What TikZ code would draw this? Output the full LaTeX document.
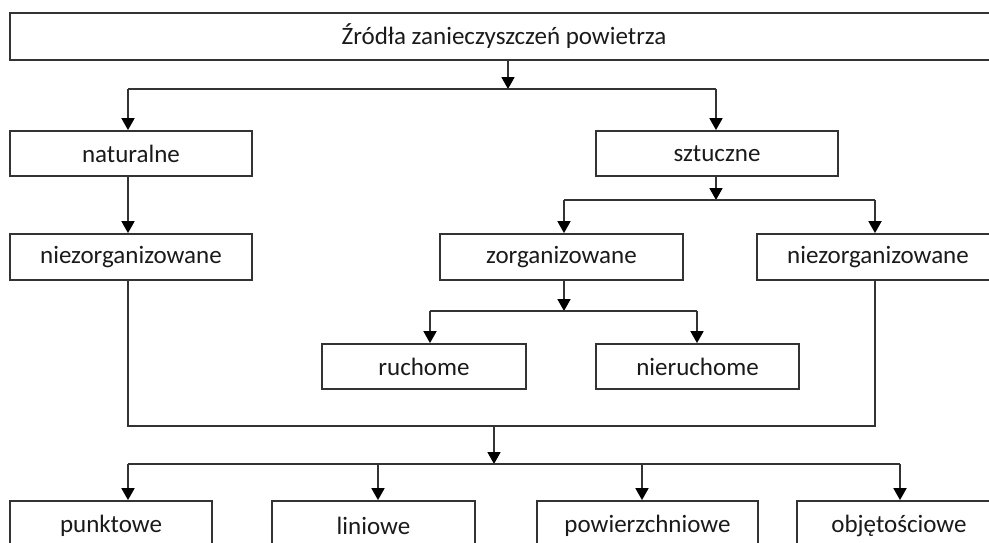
\documentclass[tikz,border=0pt]{standalone}
\usepackage{fontspec}
\setmainfont{Carlito}
\usetikzlibrary{arrows.meta}
\definecolor{ln}{HTML}{333333}
\definecolor{tx}{HTML}{1A1A1A}
\begin{document}
\begin{tikzpicture}[x=1pt,y=-1pt,
  box/.style={draw=ln,line width=1.8pt,rectangle,inner sep=0pt,text=tx,
    font=\fontsize{25}{30}\selectfont},
  wire/.style={draw=ln,line width=1.8pt},
  arr/.style={wire,-{Triangle[width=13pt,length=12pt,color=black]}}]
\useasboundingbox (0,0) rectangle (989,542);
\begin{scope}
\clip (0,0) rectangle (989,542);
\node[box,minimum width=988pt,minimum height=47pt] (top) at (504,36.5) {Źródła zanieczyszczeń powietrza};
\node[box,minimum width=242pt,minimum height=45pt] (nat) at (131,153.5) {naturalne};
\node[box,minimum width=242pt,minimum height=45pt] (szt) at (717,153.5) {sztuczne};
\node[box,minimum width=242pt,minimum height=46pt] (niezL) at (131,257) {niezorganizowane};
\node[box,minimum width=243pt,minimum height=46pt] (zorg) at (561.5,257) {zorganizowane};
\node[box,minimum width=242pt,minimum height=46pt] (niezR) at (878,257) {niezorganizowane};
\node[box,minimum width=204pt,minimum height=45pt] (ruch) at (424,366.5) {ruchome};
\node[box,minimum width=203pt,minimum height=45pt] (nieruch) at (697.5,366.5) {nieruchome};
\node[box,minimum width=202pt,minimum height=50pt] (punkt) at (111,526) {punktowe};
\node[box,minimum width=203pt,minimum height=50pt] (lin) at (373.5,526) {liniowe};
\node[box,minimum width=221pt,minimum height=50pt] (pow) at (647.5,526) {powierzchniowe};
\node[box,minimum width=204pt,minimum height=50pt] (obj) at (899,526) {objętościowe};

% junction coordinates
\coordinate (j1) at (508,89);
\coordinate (j1l) at (128,89);
\coordinate (j1r) at (716,89);
\coordinate (j2) at (716,200);
\coordinate (j2l) at (564,200);
\coordinate (j2r) at (875,200);
\coordinate (j3) at (564,311);
\coordinate (j3l) at (430,311);
\coordinate (j3r) at (697,311);
\coordinate (m1) at (128,426);
\coordinate (m2) at (875,426);
\coordinate (m) at (494,426);
\coordinate (j4) at (494,464);
\coordinate (j4a) at (128,464);
\coordinate (j4b) at (378,464);
\coordinate (j4c) at (642,464);
\coordinate (j4d) at (900,464);

% top -> naturalne / sztuczne
\draw[arr] (top.south -| j1) -- (j1);
\draw[wire] (j1l) -- (j1r);
\draw[arr] (j1l) -- (j1l |- nat.north);
\draw[arr] (j1r) -- (j1r |- szt.north);
% naturalne -> niezorganizowane
\draw[arr] (j1l |- nat.south) -- (j1l |- niezL.north);
% sztuczne -> zorganizowane / niezorganizowane
\draw[arr] (szt.south -| j2) -- (j2);
\draw[wire] (j2l) -- (j2r);
\draw[arr] (j2l) -- (j2l |- zorg.north);
\draw[arr] (j2r) -- (j2r |- niezR.north);
% zorganizowane -> ruchome / nieruchome
\draw[arr] (zorg.south -| j3) -- (j3);
\draw[wire] (j3l) -- (j3r);
\draw[arr] (j3l) -- (j3l |- ruch.north);
\draw[arr] (j3r) -- (j3r |- nieruch.north);
% merge
\draw[wire] (niezL.south -| m1) -- (m1) -- (m2) -- (niezR.south -| m2);
\draw[arr] (m) -- (j4);
\draw[wire] (j4a) -- (j4d);
\draw[arr] (j4a) -- (j4a |- punkt.north);
\draw[arr] (j4b) -- (j4b |- lin.north);
\draw[arr] (j4c) -- (j4c |- pow.north);
\draw[arr] (j4d) -- (j4d |- obj.north);
\end{scope}
\end{tikzpicture}
\end{document}
